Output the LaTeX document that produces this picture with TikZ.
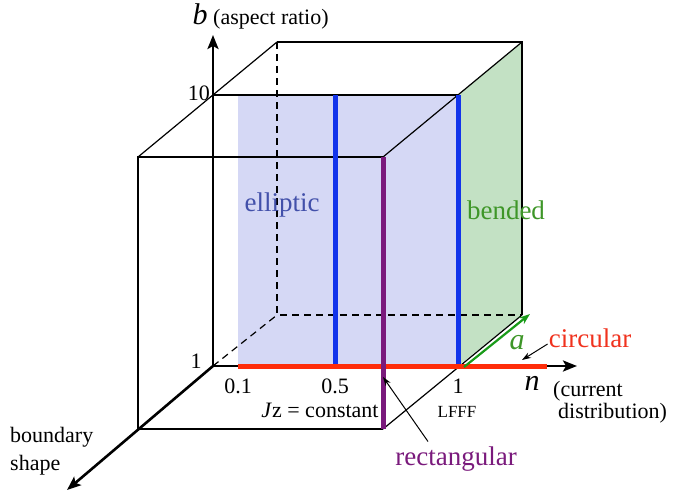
\documentclass[tikz,border=0pt]{standalone}
\usepackage{fontspec}
\setmainfont{Liberation Serif}
\usetikzlibrary{positioning,arrows.meta,calc}

\definecolor{ellfill}{RGB}{213,216,245}
\definecolor{bendfill}{RGB}{195,225,196}
\definecolor{ellblue}{RGB}{18,52,235}
\definecolor{elltext}{RGB}{66,80,170}
\definecolor{bendtext}{RGB}{62,150,40}
\definecolor{agreen}{RGB}{25,155,25}
\definecolor{circred}{RGB}{255,45,10}
\definecolor{circtext}{RGB}{240,50,30}
\definecolor{rectpurple}{RGB}{122,26,124}

\begin{document}
\begin{tikzpicture}[
  x=1pt, y=-1pt,
  edge/.style={line width=1.2pt, black},
  hidden/.style={edge, dash pattern=on 7pt off 5pt},
  axis/.style={line width=2.6pt, -{Stealth[length=14pt, width=11pt, inset=3pt]}},
  regime/.style={line width=5pt},
  lead/.style={line width=1pt, -{Stealth[length=9pt, width=6pt]}},
  lbl/.style={font=\fontsize{22}{28}\selectfont, inner sep=0pt},
  big/.style={font=\fontsize{27}{32}\selectfont, inner sep=0pt},
  var/.style={font=\fontsize{30}{34}\selectfont\itshape, inner sep=0pt},
]
\useasboundingbox (0,0) rectangle (677,495);

%% ---------- cube corners ----------
\coordinate (O)   at (213,366);   % origin of the three axes
\coordinate (Mtl) at (213,95);
\coordinate (Mtr) at (458,95);
\coordinate (Mbr) at (458,366);
\coordinate (Ftl) at (138,157);
\coordinate (Ftr) at (383,157);
\coordinate (Fbl) at (138,429);
\coordinate (Fbr) at (383,429);
\coordinate (Btl) at (277,42);
\coordinate (Btr) at (522,42);
\coordinate (Bbl) at (277,315);
\coordinate (Bbr) at (522,315);
%% n = 0.1, 0.5 on the b = 1 line
\coordinate (n01)  at (238,366);
\coordinate (n01t) at (238,95);
\coordinate (n05)  at (335,366);
\coordinate (n05t) at (335,95);
%% axis tips
\coordinate (btip) at (213,35);
\coordinate (ntip) at (577,366);
\coordinate (stip) at (67,490);
\coordinate (redend) at (547,366);

%% ---------- regions ----------
\fill[ellfill] (n01t) rectangle (Mbr);
\fill[bendfill] (Mtr) -- (Btr) -- (Bbr) -- (Mbr) -- cycle;

%% ---------- box edges ----------
\draw[edge] (Btl) -- (Btr) -- (Bbr);
\draw[hidden] (Btl) -- (Bbl) -- (Bbr);
\draw[hidden] (O) -- (Bbl);
\draw[edge] (Mtl) -- (Mtr);
\draw[edge] (Ftr) -- (Ftl) -- (Fbl) -- (Fbr);
\draw[edge] (Ftl) -- (Btl);
\draw[edge] (Ftr) -- (Btr);
\draw[edge] (Fbr) -- (Bbr);

%% ---------- axes ----------
\draw[axis] (O) -- (btip);
\draw[axis] (O) -- (ntip);
\draw[axis] (O) -- (stip);

%% ---------- regimes ----------
\draw[regime, ellblue] (n05) -- (n05t);
\draw[regime, ellblue] (Mbr) -- (Mtr);
\draw[regime, circred] (n01) -- (redend);
\draw[regime, rectpurple] (Ftr) -- (Fbr);

\coordinate (afoot) at ($(Mbr)+(6,1)$);
\coordinate (ahead) at ($(Bbr)+(8,-1)$);
\draw[line width=2.2pt, agreen, -{Stealth[length=11pt, width=8pt]}] (afoot) -- (ahead);

%% ---------- axis labels ----------
\node[var, anchor=base] (bvar) at (200,25) {b};
\node[lbl, anchor=base west] (bdesc) at (213,25) {(aspect ratio)};
\node[lbl, anchor=base east] (tick10) at (210,100) {10};
\node[lbl] (tick1) at (196,361) {1};
\node[lbl, below=13pt of n01] (t01) {0.1};
\node[lbl, below=13pt of n05] (t05) {0.5};
\node[lbl, below=13pt of Mbr] (t1) {1};
\node[lbl] (jz) at (320,410) {\textit{J}z = constant};
\node[font=\fontsize{17}{20}\selectfont, inner sep=0pt] (lfff) at (457,412) {LFFF};
\node[var, anchor=base] (nvar) at (532,390) {n};
\node[lbl, anchor=base west] (ndesc) at (553,396) {(current};
\node[lbl, anchor=base west] (ndesc2) at (558,418) {distribution)};
\node[lbl, align=left, anchor=west] (shape) at (10,451) {boundary\\shape};

%% ---------- regime labels ----------
\node[big, text=elltext] (ell) at (282,205) {elliptic};
\node[big, text=bendtext] (bend) at (506,210) {bended};
\node[var, text=bendtext] (avar) at (517,343) {a};
\node[big, text=circtext] (circ) at (590,338) {circular};
\node[big, text=rectpurple] (rect) at (456,459) {rectangular};

\coordinate (circtip) at (522,360);
\coordinate (recttip) at (383,377);
\draw[lead] ([xshift=-1pt, yshift=-6pt]circ.west) -- (circtip);
\draw[lead] ([xshift=-28pt, yshift=5pt]rect.north) -- (recttip);

\end{tikzpicture}
\end{document}
